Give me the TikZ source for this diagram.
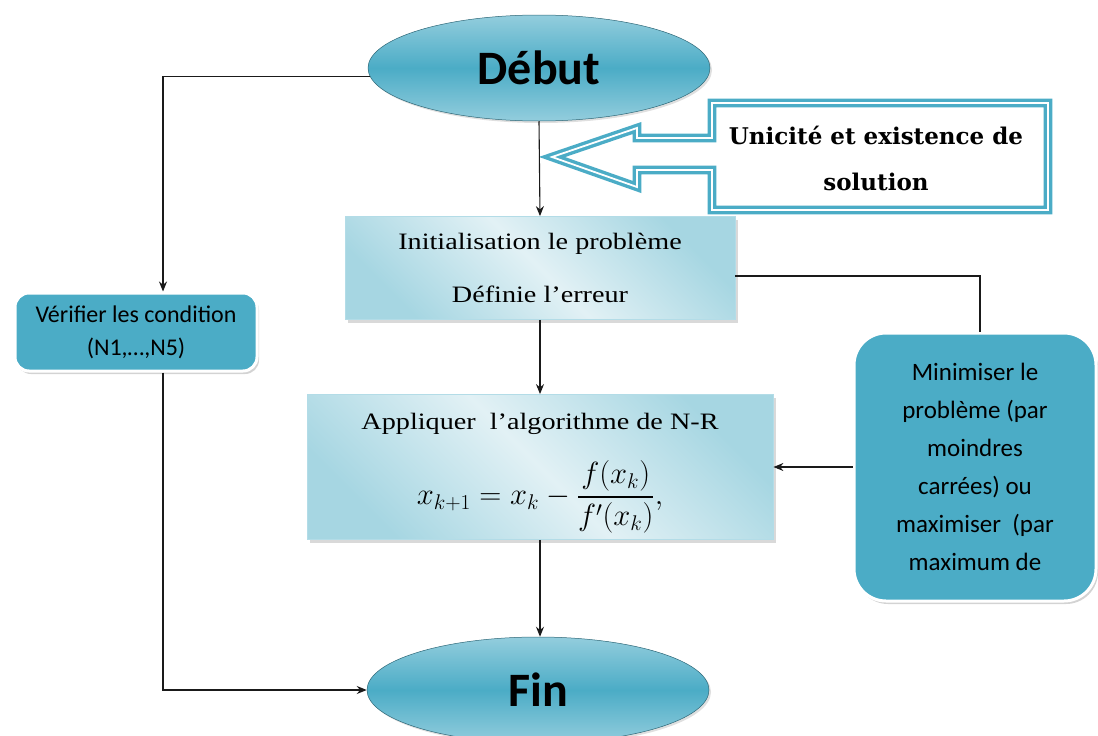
\documentclass[tikz,border=0pt]{standalone}
\usepackage{amsmath}
\usepackage{fontspec}
\setmainfont{Liberation Serif}
\newfontfamily\calib{Carlito}
\newfontfamily\dvserif{DejaVu Serif}
\newfontfamily\wideserif[FakeStretch=1.2]{Liberation Serif}
\usetikzlibrary{shapes.geometric,arrows,arrows.meta,shadows,calc,positioning}
\definecolor{aqua}{HTML}{4BACC6}
\definecolor{aqual}{HTML}{93CDDD}
\definecolor{aquam}{HTML}{A6D6E2}
\definecolor{aquap}{HTML}{E2F1F5}
\definecolor{linegray}{HTML}{1A1A1A}
\tikzset{term/.style={ellipse, minimum width=342pt, minimum height=106pt, top color=aqual, bottom color=aqual, middle color=aqua, draw=aqua!60!black, line width=0.5pt, drop shadow={opacity=0.25, shadow xshift=2pt, shadow yshift=-2pt}, font=\calib\bfseries\fontsize{48}{50}\selectfont},
proc/.style={rectangle, left color=aquam, right color=aquam, middle color=aquap, shading angle=-45, draw=aqual!70, line width=0.8pt, drop shadow={opacity=0.3, shadow xshift=3pt, shadow yshift=-3pt}, align=center, font=\wideserif\fontsize{23.5}{27}\selectfont},
cond/.style={rectangle, fill=aqua, draw=white, line width=3pt, drop shadow={opacity=0.35, shadow xshift=2pt, shadow yshift=-3pt}, align=center, font=\calib\fontsize{24}{33}\selectfont},
hollow/.style={draw=aqua, line width=3.4pt, double=white, double distance=1.8pt, fill=white, line join=miter},
link/.style={draw=linegray, line width=1.1pt}}

\begin{document}
\begin{tikzpicture}[x=1pt, y=-1pt, >={Stealth[length=10pt,width=8pt]}]
\useasboundingbox (0,0) rectangle (1098,736);
\clip (0,0) rectangle (1098,736);
\node[term] (debut) at (539,68) {Début};
\node[proc, minimum width=390pt, minimum height=103pt] (init) at (540,268) {Initialisation le problème\\[26pt]Définie l’erreur};
\node[proc, minimum width=466pt, minimum height=145pt] (appl) at (540,467) {\rule{0pt}{29pt}Appliquer\ \ l’algorithme de N-R\\[25pt]\scalebox{1.23}{\fontsize{27}{30}\selectfont$\displaystyle x_{k+1}=x_k-\frac{f(x_k)}{f'(x_k)},$}};
\node[term] (fin) at (538,690) {Fin};
\node[cond, rounded corners=14pt, minimum width=242pt, minimum height=78pt] (verif) at (136,332) {Vérifier les condition\\(N1,…,N5)};
\node[cond, rounded corners=32pt, minimum width=242pt, minimum height=268pt, font=\calib\fontsize{25}{38}\selectfont] (mini) at (975,467) {Minimiser le\\problème (par\\moindres\\carrées) ou\\maximiser\ \ (par\\maximum de};
\draw[hollow] (712,103) -- (1048,103) -- (1048,210) -- (712,210) -- (712,170) -- (637,170) -- (637,187) -- (552,157) -- (637,128) -- (637,138) -- (712,138) -- cycle;
\node[font=\dvserif\bfseries\fontsize{23}{46}\selectfont, align=center] (uni) at (876,158) {Unicité et existence de\\solution};
\draw[link, ->] (debut.south) -- (init.north);
\draw[link, ->] (init.south) -- (init.south |- appl.north);
\draw[link, ->] (appl.south) -- (appl.south |- fin.north);
\draw[link, ->] (mini.west) -- (mini.west -| appl.east);
\draw[link, ->] (debut.183) -| ([xshift=27pt]verif.north);
\draw[link, ->] ([xshift=27pt]verif.south) |- (fin.west);
\draw[link] ([yshift=-8pt]init.east) -| ([xshift=5pt]mini.north);
\end{tikzpicture}
\end{document}
